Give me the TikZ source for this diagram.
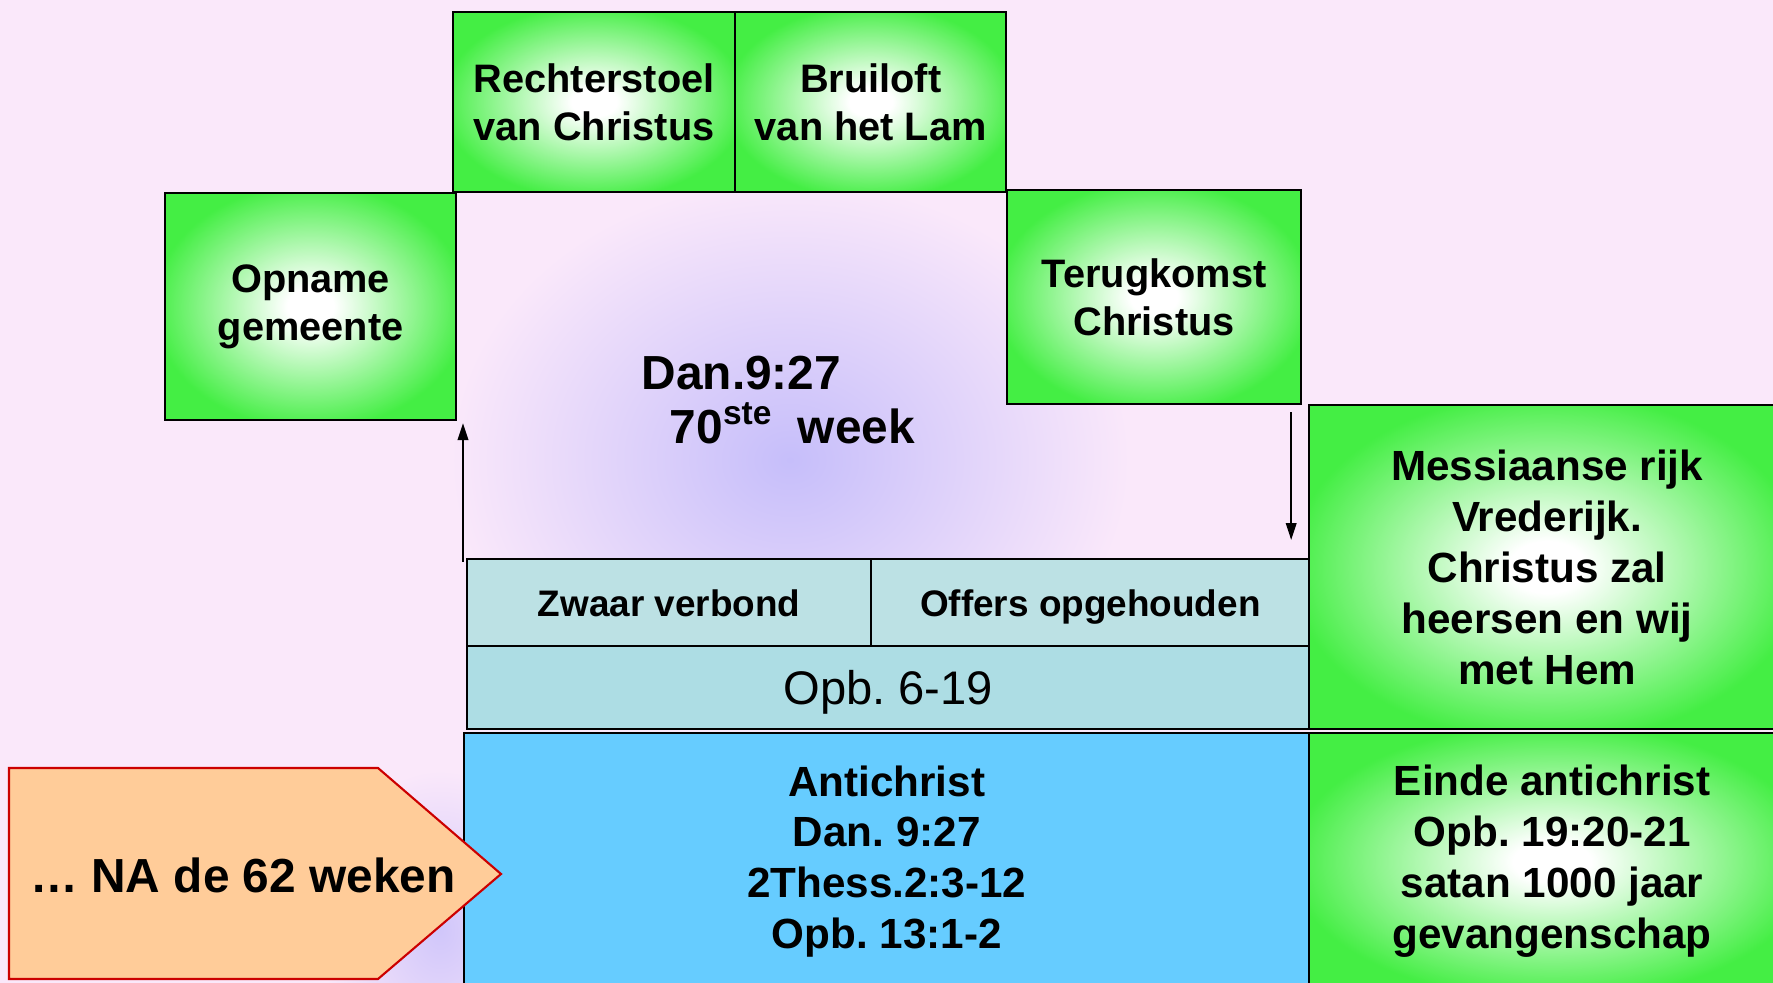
\documentclass[tikz,border=0pt]{standalone}
\usepackage{fontspec}
\setmainfont{Liberation Sans}
\frenchspacing
\usetikzlibrary{calc, positioning, arrows.meta}
\definecolor{pinkbg}{RGB}{250,232,250}
\definecolor{glow}{RGB}{198,190,250}
\definecolor{boxgreen}{RGB}{68,238,68}
\definecolor{paleteal}{RGB}{188,225,228}
\definecolor{opbteal}{RGB}{173,221,228}
\definecolor{skyblue}{RGB}{102,204,255}
\definecolor{peach}{RGB}{255,204,153}
\definecolor{pointred}{RGB}{204,0,0}
\pgfdeclareradialshading{greenglow}{\pgfpoint{0bp}{0bp}}{%
  color(0bp)=(white); color(4bp)=(white); color(27bp)=(boxgreen); color(50bp)=(boxgreen)}
\tikzset{
  cell/.style={draw, line width=0.6pt, outer sep=0pt, inner sep=2pt, align=center},
  greenbox/.style={cell, shading=greenglow, font=\fontsize{11.3}{13.7}\selectfont\bfseries},
  bigbox/.style={greenbox, font=\fontsize{12}{14.5}\selectfont\bfseries},
  flow/.style={-{Triangle[length=4.8pt, width=3pt]}, line width=0.5pt}
}

\begin{document}
\begin{tikzpicture}[
    x=0.01cm, y=-0.01cm,
    tealbox/.style={cell, fill=paleteal, text height=0.9em, text depth=0.1em,
      font=\fontsize{10.5}{12.5}\selectfont\bfseries},
    node distance=0pt
  ]

  \useasboundingbox (0,0) rectangle (1773,983);
  \clip (0,0) rectangle (1773,983);
  \fill[pinkbg] (0,0) rectangle (1773,983);
  \shade[inner color=glow, outer color=pinkbg] (790,460) ellipse [x radius=340, y radius=280];
  \shade[inner color=glow!80!pinkbg, outer color=pinkbg] (440,930) ellipse [x radius=120, y radius=160];

  % top row
  \node[greenbox, minimum width=2.82cm, minimum height=1.80cm, anchor=north west] (rechter) at (453,12) {Rechterstoel\\van Christus};
  \node[greenbox, minimum width=2.71cm, minimum height=1.80cm, right=of rechter] (bruiloft) {Bruiloft\\van het Lam};
  \node[greenbox, minimum width=2.91cm, minimum height=2.27cm, anchor=north west] (opname) at (165,193) {Opname\\gemeente};
  \node[greenbox, minimum width=2.94cm, minimum height=2.14cm, anchor=north west] (terug) at (1007,190) {Terugkomst\\Christus};

  \node[anchor=west, align=left, inner sep=0pt, font=\fontsize{13.6}{15.1}\selectfont\bfseries] (week) at (641,400)
  {Dan.9:27\\\hspace{8pt}70\textsuperscript{ste}\hspace{7pt}week};

  % middle band
  \node[tealbox, minimum width=4.04cm, minimum height=0.87cm, anchor=north west] (verbond) at (467,559) {Zwaar verbond};
  \node[tealbox, minimum width=4.38cm, minimum height=0.87cm, right=of verbond] (offers) {Offers opgehouden};
  \node[cell, fill=opbteal, minimum width=8.42cm, minimum height=0.83cm, below=of verbond.south west, anchor=north west,
    text height=1.0em, text depth=0.04em, font=\fontsize{13.4}{15}\selectfont] (opb) {Opb. 6-19};

  \node[bigbox, minimum width=4.76cm, minimum height=3.24cm, anchor=north west] (rijk) at (1309,405)
  {Messiaanse rijk\\Vrederijk.\\Christus zal\\heersen en wij\\met Hem};

  % bottom row
  \node[cell, fill=skyblue, minimum width=8.45cm, minimum height=2.57cm, anchor=north west,
    font=\fontsize{12}{14.5}\selectfont\bfseries] (anti) at (464,733)
  {Antichrist\\Dan. 9:27\\2Thess.2:3-12\\Opb. 13:1-2};
  \node[bigbox, minimum width=4.86cm, minimum height=2.57cm, anchor=north west] (einde) at (1309,733)
  {Einde antichrist\\Opb. 19:20-21\\satan 1000 jaar\\gevangenschap};

  \filldraw[fill=peach, draw=pointred, line width=0.6pt] (9,768) -- (378,768) -- (501,874) -- (378,979) -- (9,979) -- cycle;
  \node[font=\fontsize{13.6}{15}\selectfont\bfseries] (weken) at (243,875) {… NA de 62 weken};

  \draw[flow] ($(verbond.north west)+(-4,3)$) -- ($(verbond.north west |- opname.south)+(-4,3)$);
  \draw[flow] ($(terug.south east)+(-10,8)$) -- ($(terug.south east |- offers.north)+(-10,-19)$);

\end{tikzpicture}
\end{document}
